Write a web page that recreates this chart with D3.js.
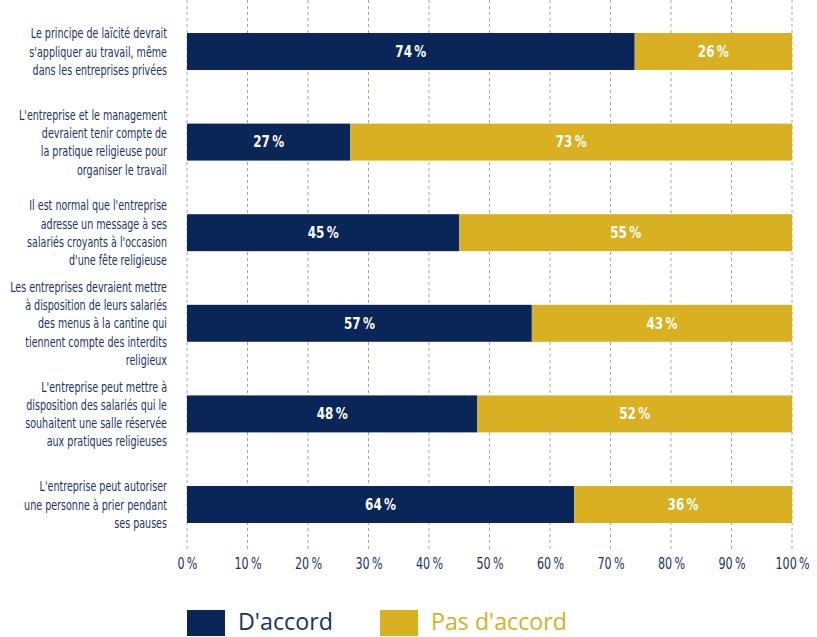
<!DOCTYPE html>
<html><head><meta charset="utf-8">
<script src="https://cdn.jsdelivr.net/npm/d3@7"></script>
<style>
body{margin:0;background:#fff;}
svg{display:block;}
.cond{font-family:"DejaVu Sans Condensed","DejaVu Sans",sans-serif;}
</style></head><body>
<svg id="c" width="817" height="637"></svg>
<script>
const categories = [
  ["Le principe de laïcité devrait","s'appliquer au travail, même","dans les entreprises privées"],
  ["L'entreprise et le management","devraient tenir compte de","la pratique religieuse pour","organiser le travail"],
  ["Il est normal que l'entreprise","adresse un message à ses","salariés croyants à l'occasion","d'une fête religieuse"],
  ["Les entreprises devraient mettre","à disposition de leurs salariés","des menus à la cantine qui","tiennent compte des interdits","religieux"],
  ["L'entreprise peut mettre à","disposition des salariés qui le","souhaitent une salle réservée","aux pratiques religieuses"],
  ["L'entreprise peut autoriser","une personne à prier pendant","ses pauses"]
];
const agree = [74, 27, 45, 57, 48, 64];
const disagree = [26, 73, 55, 43, 52, 36];
const seriesNames = ["D'accord", "Pas d'accord"];
const ticks = [0,10,20,30,40,50,60,70,80,90,100];

const navy = "#0a2659", gold = "#d9b022", textNavy = "#1a3366";
const svg = d3.select("#c");
const keys = categories.map((c,i)=>"c"+i);
const x = d3.scaleLinear().domain([0,100]).range([187,792]);
const y = d3.scaleBand().domain(keys).range([10,546]).paddingInner(0.592).paddingOuter(0.254);
const fmt = v => v + "\u202F%";

function squeeze(node, ax, sx){
  d3.select(node).attr("transform",`translate(${ax},0) scale(${sx},1) translate(${-ax},0)`);
}

// grid
svg.append("g").selectAll("line").data(ticks).join("line")
  .attr("x1",d=>x(d)).attr("x2",d=>x(d)).attr("y1",0).attr("y2",549)
  .attr("stroke","#9aa6c0").attr("stroke-width",1).attr("stroke-dasharray","3,3");

// bars
const rows = svg.append("g").selectAll("g").data(keys).join("g");
rows.append("rect").attr("x",x(0)).attr("y",k=>y(k))
  .attr("width",(k,i)=>x(agree[i])-x(0)).attr("height",y.bandwidth()).attr("fill",navy);
rows.append("rect").attr("x",(k,i)=>x(agree[i])).attr("y",k=>y(k))
  .attr("width",(k,i)=>x(agree[i]+disagree[i])-x(agree[i])).attr("height",y.bandwidth()).attr("fill",gold);

function valLabel(getX, getV){
  rows.append("text").attr("class","cond").attr("x",getX).attr("y",k=>y(k)+y.bandwidth()/2)
    .attr("dy","0.36em").attr("text-anchor","middle").attr("fill","#fff").attr("font-weight","bold").attr("font-size",15)
    .text(getV)
    .each(function(k,i){ const w=this.getComputedTextLength(); squeeze(this, getX(k,i), 31/w); });
}
valLabel((k,i)=>x(agree[i]/2), (k,i)=>fmt(agree[i]));
valLabel((k,i)=>x(agree[i]+disagree[i]/2), (k,i)=>fmt(disagree[i]));

// category labels
const lh = 18.3;
const labels = rows.append("text").attr("class","cond").attr("text-anchor","end").attr("fill",textNavy).attr("font-size",14.5)
  .each(function(k,i){
    const lines = categories[i];
    const cy = y(k)+y.bandwidth()/2;
    const t = d3.select(this);
    lines.forEach((l,j)=>{
      t.append("tspan").attr("x",167).attr("y",cy+(j-(lines.length-1)/2)*lh).attr("dy","0.35em").text(l);
    });
  });
const ref = labels.filter((k,i)=>i===3).select("tspan").node().getComputedTextLength();
const lsx = 157/ref;
labels.each(function(){ squeeze(this, 167, lsx); });

// x axis labels
const ax = d3.axisBottom(x).tickValues(ticks).tickFormat(fmt).tickSize(0).tickPadding(0);
const axg = svg.append("g").attr("transform","translate(0,558)").call(ax);
axg.select(".domain").remove();
axg.selectAll("text").attr("class","cond").attr("fill",textNavy).attr("font-size",15).attr("font-family",null);
const tw = axg.selectAll("text").filter(d=>d===10).node().getComputedTextLength();
const tsx = 27/tw;
axg.selectAll("text").each(function(d){ squeeze(this, 0, tsx); });

// legend
const leg = svg.append("g");
const lx = [187, 380];
const cols = [navy, gold];
const targetW = [95, 136];
seriesNames.forEach((n,i)=>{
  leg.append("rect").attr("x",lx[i]).attr("y",610).attr("width",38).attr("height",26).attr("fill",cols[i]);
  const t = leg.append("text").attr("x",lx[i]+51).attr("y",630).attr("font-family","'Open Sans',sans-serif")
    .attr("font-size",24).attr("fill",i===0?textNavy:gold).text(n);
  const w = t.node().getComputedTextLength();
  squeeze(t.node(), lx[i]+51, targetW[i]/w);
});
</script></body></html>
